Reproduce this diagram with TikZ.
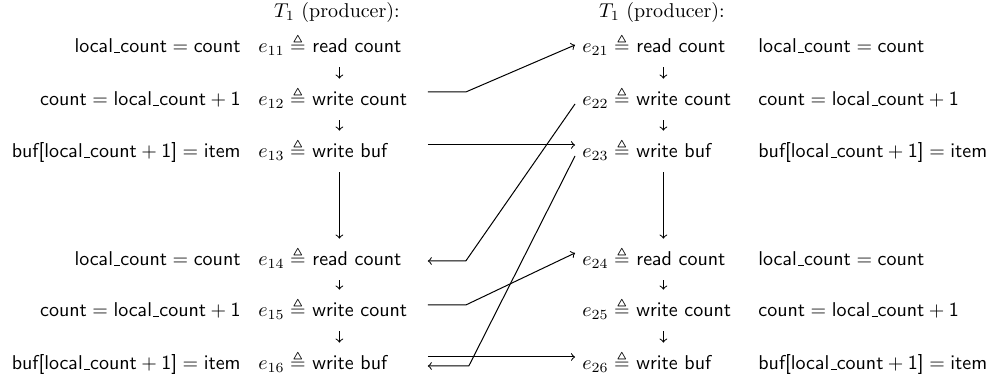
\documentclass[tikz,border=0pt]{standalone}
\usepackage[OT1]{fontenc}
\usepackage{amssymb}
\renewcommand{\rmdefault}{cmr}
\renewcommand{\sfdefault}{cmss}
\usetikzlibrary{calc}
\begin{document}
\begin{tikzpicture}[x=0.5pt,y=-0.5pt,
  ev/.style={text width=81pt, align=left, inner xsep=3.5pt, inner ysep=0pt,
             text height=13.5pt, text depth=7pt, anchor=base west},
  lab/.style={inner sep=0pt},
  labl/.style={lab, anchor=base east},
  labr/.style={lab, anchor=base west},
  hdr/.style={inner sep=0pt, anchor=base},
  conn/.style={->, line width=0.5pt}]
\useasboundingbox (0,0) rectangle (996,378);
% headers
\node[hdr] (h1) at (337,18) {$T_1$ (producer):};
\node[hdr] (h2) at (662,18) {$T_1$ (producer):};
% left column events
\node[ev] (e11) at (251,53)  {$e_{11} \triangleq$ \textsf{read count}};
\node[ev] (e12) at (251,106) {$e_{12} \triangleq$ \textsf{write count}};
\node[ev] (e13) at (251,158) {$e_{13} \triangleq$ \textsf{write buf}};
\node[ev] (e14) at (251,266) {$e_{14} \triangleq$ \textsf{read count}};
\node[ev] (e15) at (251,317) {$e_{15} \triangleq$ \textsf{write count}};
\node[ev] (e16) at (251,370) {$e_{16} \triangleq$ \textsf{write buf}};
% right column events
\node[ev] (e21) at (575,53)  {$e_{21} \triangleq$ \textsf{read count}};
\node[ev] (e22) at (575,106) {$e_{22} \triangleq$ \textsf{write count}};
\node[ev] (e23) at (575,158) {$e_{23} \triangleq$ \textsf{write buf}};
\node[ev] (e24) at (575,266) {$e_{24} \triangleq$ \textsf{read count}};
\node[ev] (e25) at (575,317) {$e_{25} \triangleq$ \textsf{write count}};
\node[ev] (e26) at (575,370) {$e_{26} \triangleq$ \textsf{write buf}};
% left labels
\node[labl] (l11) at (241,53)  {$\textsf{local\_count} = \textsf{count}$};
\node[labl] (l12) at (241,106) {$\textsf{count} = \textsf{local\_count} + \textsf{1}$};
\node[labl] (l13) at (241,158) {$\textsf{buf[local\_count} + \textsf{1]} = \textsf{item}$};
\node[labl] (l14) at (241,266) {$\textsf{local\_count} = \textsf{count}$};
\node[labl] (l15) at (241,317) {$\textsf{count} = \textsf{local\_count} + \textsf{1}$};
\node[labl] (l16) at (241,370) {$\textsf{buf[local\_count} + \textsf{1]} = \textsf{item}$};
% right labels
\node[labr] (l21) at (758,53)  {$\textsf{local\_count} = \textsf{count}$};
\node[labr] (l22) at (758,106) {$\textsf{count} = \textsf{local\_count} + \textsf{1}$};
\node[labr] (l23) at (758,158) {$\textsf{buf[local\_count} + \textsf{1]} = \textsf{item}$};
\node[labr] (l24) at (758,266) {$\textsf{local\_count} = \textsf{count}$};
\node[labr] (l25) at (758,317) {$\textsf{count} = \textsf{local\_count} + \textsf{1}$};
\node[labr] (l26) at (758,370) {$\textsf{buf[local\_count} + \textsf{1]} = \textsf{item}$};
% program order
\draw[conn] (e11) -- (e12);
\draw[conn] (e12) -- (e13);
\draw[conn] (e13) -- (e14);
\draw[conn] (e14) -- (e15);
\draw[conn] (e15) -- (e16);
\draw[conn] (e21) -- (e22);
\draw[conn] (e22) -- (e23);
\draw[conn] (e23) -- (e24);
\draw[conn] (e24) -- (e25);
\draw[conn] (e25) -- (e26);
% cross edges
\draw[conn] ([yshift=7pt]e12.base east) -- ++(38,0) -- ([yshift=4pt]e21.base west);
\draw[conn] ([yshift=6.5pt]e13.base east) -- ([yshift=6.5pt]e23.base west);
\draw[conn] ([yshift=1pt]e22.base west) -- ([xshift=19pt,yshift=2.5pt]e14.base east) -- ([yshift=2.5pt]e14.base east);
\draw[conn] ([yshift=1pt]e23.base west) -- ([xshift=20.5pt,yshift=2pt]e16.base east) -- ([yshift=2pt]e16.base east);
\draw[conn] ([yshift=6pt]e15.base east) -- ++(38,0) -- ([yshift=6.5pt]e24.base west);
\draw[conn] ([yshift=6.5pt]e16.base east) -- ([yshift=6.5pt]e26.base west);
\end{tikzpicture}
\end{document}
